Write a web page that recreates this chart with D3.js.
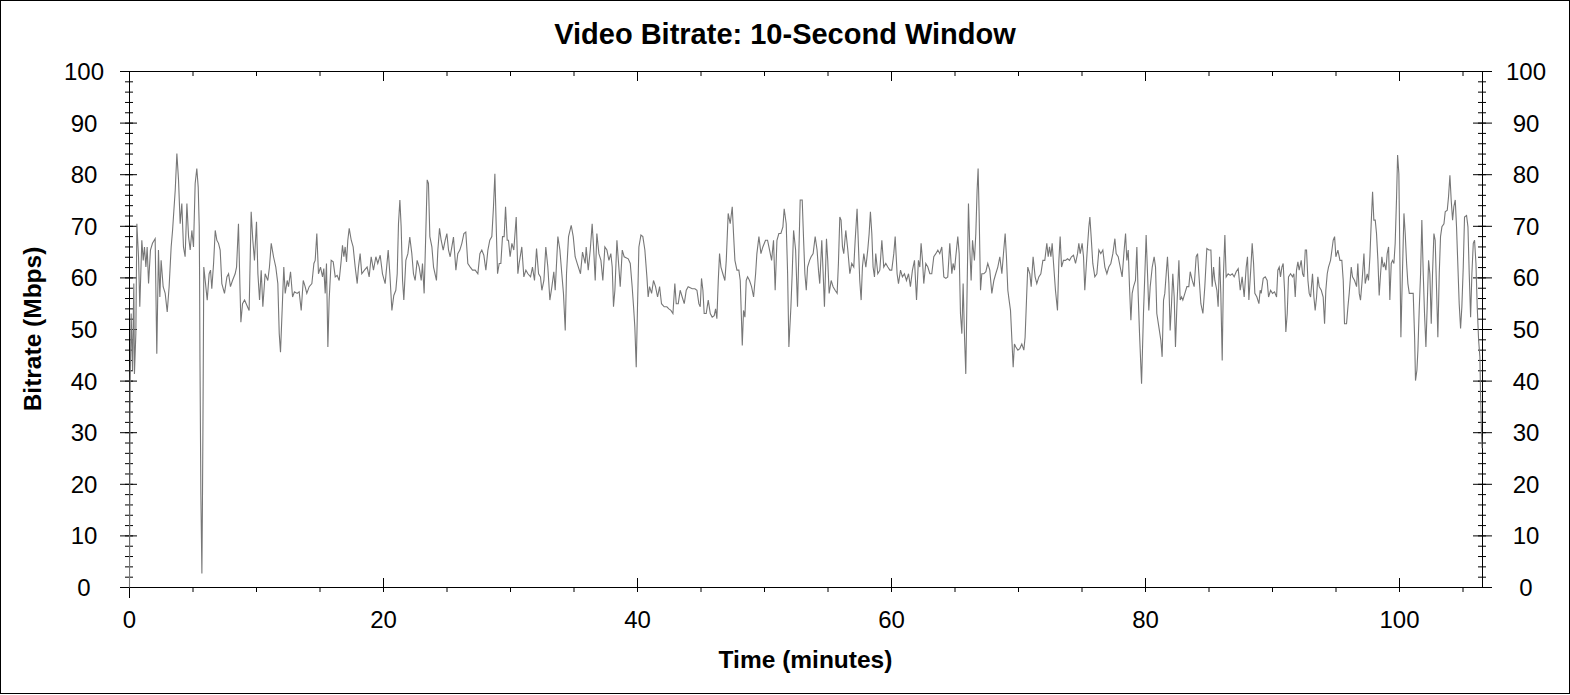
<!DOCTYPE html>
<html>
<head>
<meta charset="utf-8">
<script src="https://cdn.jsdelivr.net/npm/d3@7"></script>
<style>
  html, body { margin: 0; padding: 0; background: #fff; }
  svg { display: block; }
</style>
</head>
<body>
<svg id="chart" width="1570" height="695"></svg>
<script>
// ---- Data: [time (minutes), bitrate (Mbps)] ----
const partA = [[0,0],[0.05,39],[0.13,53.1],[0.24,42.1],[0.34,58.9],[0.39,41.4],[0.50,49.2],[0.58,70.5],[0.71,64.1],[0.81,54.4],[0.97,67.3],[1.08,63.4],[1.18,66.0],[1.29,62.1],[1.39,66.0],[1.50,58.9],[1.65,65.4],[1.81,66.7],[2.02,67.6],[2.15,45.3],[2.28,65.4],[2.39,56.3],[2.49,63.4],[2.65,58.3],[2.81,57.0],[2.97,53.4],[3.12,58.3],[3.28,66.0],[3.39,69.2],[3.60,77.0],[3.73,84.1],[3.86,79.0],[3.99,70.5],[4.12,74.4],[4.25,66.0],[4.38,64.1],[4.52,74.4],[4.65,68.0],[4.78,65.4],[4.91,69.2],[5.04,66.0],[5.17,78.3],[5.30,81.2],[5.41,77.6],[5.49,70],[5.52,60],[5.55,44],[5.62,18],[5.70,2.7],[5.74,15],[5.78,30],[5.85,62.1],[6.01,58.3],[6.12,55.7],[6.27,60.8],[6.38,61.5],[6.48,57.9],[6.62,62.8],[6.75,69.2],[6.88,67.3],[7.01,66.7],[7.14,65.4],[7.27,58.9],[7.48,57.0],[7.67,60.2],[7.80,60.8],[7.95,58.3],[8.11,59.5],[8.32,60.8],[8.43,62.1],[8.58,70.5],[8.69,58.9],[8.77,51.4],[8.90,55.0],[9.06,55.7],[9.24,54.7],[9.42,53.7],[9.58,72.8],[9.71,67.3],[9.84,63.4],[10.00,70.9],[10.11,60.8],[10.24,55.7],[10.37,61.5],[10.50,54.4],[10.68,60.8],[10.89,59.5],[11.02,62.1],[11.16,66.7],[11.34,64.1],[11.52,62.1],[11.68,58.9],[11.79,49.2],[11.89,45.6],[12.05,55.7],[12.15,62.1],[12.26,57.0],[12.42,59.5],[12.52,58.3],[12.68,61.2],[12.84,56.3],[12.99,57.3],[13.20,57.0],[13.36,57.3],[13.52,53.7],[13.68,59.5],[13.83,58.3],[13.96,57.0],[14.15,58.3],[14.36,58.9],[14.52,62.8],[14.62,63.4],[14.75,68.6],[14.88,60.8],[15.04,62.1],[15.20,60.2],[15.30,61.8],[15.41,57.0],[15.51,62.8],[15.62,46.6],[15.72,55.7],[15.88,63.4],[16.04,63.1],[16.20,60.2],[16.35,60.5],[16.51,59.5],[16.67,63.4],[16.77,66.3],[16.88,64.1],[16.98,66.0],[17.09,63.1],[17.19,67.3],[17.30,69.6],[17.46,67.3],[17.61,66.0],[17.77,62.1],[17.93,58.9],[18.03,62.1],[18.16,64.7]];

const partB = [[18.29,60.8],[18.50,61.5],[18.71,62.1],[18.87,60.2],[19.03,64.1],[19.21,61.5],[19.40,64.1],[19.55,62.8],[19.74,64.4],[19.92,60.8],[20.13,58.9],[20.37,65.4],[20.50,60.8],[20.66,53.7],[20.81,56.6],[20.97,57.6],[21.08,60.8],[21.18,70.5],[21.29,75.1],[21.39,69.9],[21.50,59.5],[21.60,55.7],[21.76,63.4],[21.92,64.7],[22.07,67.9],[22.23,64.7],[22.36,60.8],[22.49,59.5],[22.65,63.4],[22.81,62.1],[22.97,59.5],[23.07,62.8],[23.20,57.0],[23.33,68.6],[23.44,79.0],[23.54,78.3],[23.65,68.0],[23.81,66.0],[23.94,62.1],[24.17,59.5],[24.28,65.4],[24.41,69.6],[24.54,67.3],[24.70,65.4],[24.86,67.3],[24.99,68.6],[25.12,65.4],[25.25,64.1],[25.51,67.9],[25.70,61.5],[25.85,64.7],[26.01,65.4],[26.17,66.7],[26.33,68.6],[26.48,68.9],[26.64,62.8],[26.83,62.1],[27.01,61.5],[27.22,61.5],[27.43,60.8],[27.59,64.7],[27.74,65.4],[27.90,64.4],[28.06,61.5],[28.22,65.4],[28.37,67.3],[28.53,68.0],[28.66,73.8],[28.77,80.2],[28.87,70.5],[28.98,60.8],[29.11,62.8],[29.24,62.8],[29.37,68.0],[29.50,68.0],[29.61,73.8],[29.74,67.3],[29.84,67.3],[29.97,64.1],[30.11,66.7],[30.26,65.4],[30.45,71.8],[30.58,60.8],[30.68,62.8],[30.89,66.0],[31.05,60.2],[31.21,61.5],[31.37,60.8],[31.58,60.2],[31.73,62.1],[31.89,59.5],[32.05,65.7],[32.21,60.8],[32.36,60.2],[32.47,57.6],[32.63,59.5],[32.78,66.0],[32.94,62.1],[33.10,55.7],[33.26,58.3],[33.41,61.2],[33.52,57.6],[33.73,68.0],[33.89,65.4],[34.04,60.8],[34.17,57.0],[34.31,49.8],[34.41,60.8],[34.57,68.0],[34.78,70.2],[34.94,68.0],[35.09,64.1],[35.25,62.8],[35.51,60.8],[35.67,65.0],[35.88,62.8]];

const partC = [[35.96,66.0],[36.12,61.5],[36.28,65.4],[36.43,70.5],[36.54,66.0],[36.67,59.5],[36.80,68.6],[36.96,64.7],[37.12,63.4],[37.27,59.5],[37.43,66.0],[37.59,65.4],[37.75,63.4],[37.90,64.7],[38.01,62.1],[38.11,54.4],[38.22,57.6],[38.38,67.3],[38.53,62.1],[38.64,58.3],[38.80,65.4],[38.95,64.1],[39.27,63.7],[39.43,62.8],[39.58,58.3],[39.69,54.4],[39.79,50.5],[39.90,42.7],[40.00,54.4],[40.11,66.0],[40.27,68.3],[40.42,68.0],[40.58,65.4],[40.74,60.2],[40.84,56.3],[40.95,58.3],[41.11,57.0],[41.26,59.5],[41.42,58.3],[41.58,56.3],[41.74,58.3],[41.89,55.0],[42.10,54.4],[42.31,54.4],[42.47,54.0],[42.63,53.7],[42.79,53.1],[42.94,58.9],[43.05,55.0],[43.21,55.0],[43.36,57.6],[43.52,56.3],[43.68,55.0],[43.84,57.6],[43.99,58.3],[44.31,57.9],[44.52,57.9],[44.68,57.6],[44.83,55.0],[44.94,54.4],[45.04,59.9],[45.15,57.6],[45.25,53.1],[45.41,53.1],[45.57,55.7],[45.73,53.1],[45.88,52.4],[46.04,52.7],[46.15,54.0],[46.25,52.1],[46.36,59.5],[46.46,64.7],[46.57,62.1],[46.72,60.8],[46.88,59.5],[46.99,63.4],[47.14,72.5],[47.30,70.5],[47.46,73.8],[47.56,68.6],[47.67,63.4],[47.83,61.5],[47.98,61.5],[48.09,59.5],[48.25,46.9],[48.35,53.7],[48.46,52.4],[48.56,59.5],[48.67,60.2],[48.82,59.5],[48.98,58.3],[49.14,56.3],[49.30,60.8],[49.40,64.7],[49.56,68.0],[49.72,64.7],[49.87,66.0],[50.08,67.3],[50.24,67.3],[50.40,65.4],[50.56,63.4],[50.71,67.3],[50.84,57.6],[50.98,67.3],[51.13,68.6],[51.29,68.6],[51.45,69.9],[51.55,73.4],[51.71,70.5],[51.82,60.8],[51.92,46.6],[52.08,54.4],[52.18,60.8],[52.29,69.2],[52.45,65.4],[52.60,54.4],[52.71,65.4],[52.81,75.1],[52.97,75.1],[53.08,67.3],[53.18,60.8],[53.29,57.6],[53.39,62.1],[53.55,63.4]];

const partD = [[53.67,64.1],[53.83,64.7],[53.99,68.0],[54.14,65.4],[54.25,61.5],[54.35,58.9],[54.51,67.3],[54.62,60.8],[54.72,54.4],[54.88,67.6],[54.98,63.4],[55.09,57.0],[55.25,59.5],[55.40,58.3],[55.56,57.6],[55.72,57.0],[55.82,62.8],[55.93,71.8],[56.03,71.2],[56.14,66.0],[56.24,64.7],[56.40,69.2],[56.56,65.4],[56.72,60.8],[56.87,62.8],[57.03,62.1],[57.14,67.3],[57.29,73.4],[57.40,66.0],[57.50,59.5],[57.61,55.7],[57.71,62.1],[57.82,64.7],[57.98,62.1],[58.13,65.4],[58.24,68.6],[58.34,72.8],[58.45,68.6],[58.55,62.1],[58.66,60.2],[58.76,64.7],[58.92,60.8],[59.08,61.5],[59.24,67.3],[59.39,62.1],[59.55,62.8],[59.71,62.1],[59.87,61.5],[60.02,61.5],[60.18,64.7],[60.29,68.0],[60.44,60.8],[60.55,58.9],[60.71,61.5],[60.86,60.2],[61.02,60.8],[61.18,59.5],[61.34,60.8],[61.49,58.3],[61.65,61.5],[61.81,63.4],[61.97,55.7],[62.12,63.4],[62.23,62.1],[62.33,66.7],[62.44,63.4],[62.54,58.9],[62.70,62.8],[62.86,62.1],[63.02,60.8],[63.17,60.8],[63.33,64.1],[63.49,64.7],[63.65,65.4],[63.80,64.7],[63.96,66.0],[64.12,60.2],[64.28,59.9],[64.43,60.2],[64.59,66.7],[64.75,60.8],[64.85,62.8],[64.96,61.5],[65.06,64.1],[65.22,68.0],[65.33,64.7],[65.43,53.1],[65.54,49.2],[65.64,58.9],[65.75,48.5],[65.85,41.4],[65.96,58.9],[66.06,74.4],[66.17,65.4],[66.27,59.5],[66.38,67.3],[66.53,63.4],[66.64,68.6],[66.74,77.0],[66.82,81.2],[66.90,72.5],[67.01,57.6],[67.11,60.8],[67.27,60.8],[67.43,61.2],[67.58,62.8],[67.74,61.5],[67.90,57.0],[68.06,59.5],[68.21,60.8],[68.37,62.1],[68.53,64.1],[68.69,60.8],[68.84,65.4],[68.95,68.6],[69.05,64.1],[69.16,57.6],[69.26,55.7],[69.37,53.7],[69.47,48.5],[69.58,42.7],[69.68,47.2],[69.79,46.6],[69.95,46.0],[70.10,46.3],[70.26,47.2],[70.42,46.0],[70.52,48.5],[70.63,55.7],[70.73,62.1],[70.89,60.8],[71.00,58.3],[71.15,64.1],[71.31,60.2]];

const partE = [[71.44,58.9],[71.60,60.2],[71.76,60.8],[71.92,63.4],[72.07,63.4],[72.23,66.7],[72.34,64.1],[72.44,66.0],[72.55,64.1],[72.65,66.7],[72.76,62.8],[72.91,57.6],[73.07,53.7],[73.18,63.4],[73.28,68.0],[73.39,62.1],[73.54,63.4],[73.70,63.4],[73.86,63.7],[74.02,63.4],[74.17,64.1],[74.33,64.4],[74.49,62.8],[74.65,64.7],[74.75,66.7],[74.86,64.7],[75.01,66.7],[75.12,64.1],[75.22,57.6],[75.33,62.1],[75.43,66.0],[75.54,69.9],[75.62,71.8],[75.72,68.0],[75.85,62.8],[76.01,60.2],[76.17,60.8],[76.33,65.4],[76.48,64.7],[76.64,65.4],[76.80,62.1],[76.96,60.8],[77.11,62.1],[77.27,62.8],[77.43,64.7],[77.59,67.6],[77.69,64.7],[77.85,64.1],[78.01,62.1],[78.16,60.2],[78.32,65.4],[78.43,68.6],[78.53,63.4],[78.64,65.4],[78.74,58.3],[78.85,51.8],[78.95,57.0],[79.06,58.3],[79.21,59.5],[79.32,66.0],[79.42,57.0],[79.53,49.2],[79.69,39.5],[79.84,53.1],[79.95,60.8],[80.05,68.3],[80.16,60.8],[80.26,53.7],[80.37,58.3],[80.53,62.1],[80.68,64.1],[80.79,62.1],[80.89,53.1],[81.05,50.5],[81.21,47.9],[81.31,44.7],[81.42,55.7],[81.52,57.0],[81.63,60.8],[81.73,64.1],[81.84,58.9],[81.94,49.8],[82.05,55.0],[82.15,60.8],[82.26,56.3],[82.36,46.6],[82.47,54.4],[82.63,63.4],[82.73,55.7],[82.84,56.3],[82.94,55.7],[83.10,57.0],[83.26,58.3],[83.41,58.3],[83.52,61.2],[83.68,59.5],[83.83,58.3],[83.99,64.1],[84.10,64.7],[84.20,60.8],[84.36,55.0],[84.52,53.1],[84.67,58.3],[84.83,65.7],[84.99,65.4],[85.15,65.4],[85.25,58.3],[85.36,62.1],[85.46,59.5],[85.62,57.6],[85.72,54.4],[85.83,64.1],[85.93,57.0],[86.04,44.0],[86.14,60.8],[86.25,68.3],[86.35,60.2],[86.51,60.8],[86.67,60.5],[86.83,60.8],[86.98,60.2],[87.14,61.2],[87.30,61.8],[87.46,57.6],[87.61,60.2],[87.77,56.3],[87.93,62.1],[88.03,64.1],[88.14,55.7],[88.30,62.1],[88.40,66.7],[88.51,62.8],[88.61,57.0],[88.77,56.3],[88.93,55.0],[89.03,57.6]];

const partF = [[89.11,57.0],[89.27,59.9],[89.43,60.2],[89.58,59.5],[89.69,56.3],[89.85,57.6],[90.00,57.0],[90.16,57.3],[90.32,56.3],[90.42,61.5],[90.53,62.1],[90.63,60.2],[90.74,62.1],[90.84,62.8],[90.95,57.6],[91.05,49.5],[91.16,53.1],[91.26,60.2],[91.42,60.8],[91.58,60.2],[91.68,60.8],[91.79,56.3],[91.89,61.5],[92.00,63.1],[92.10,61.5],[92.26,63.4],[92.37,60.8],[92.47,60.2],[92.58,65.4],[92.68,65.4],[92.79,59.5],[92.89,57.0],[93.00,56.3],[93.15,60.8],[93.26,56.3],[93.36,53.7],[93.47,56.3],[93.57,60.2],[93.68,58.3],[93.84,57.6],[93.99,56.3],[94.10,51.1],[94.20,57.6],[94.31,60.8],[94.41,62.1],[94.57,63.4],[94.68,65.4],[94.78,67.3],[94.89,68.0],[94.99,64.1],[95.15,65.4],[95.31,63.4],[95.46,63.4],[95.57,59.5],[95.67,51.1],[95.83,51.1],[95.94,54.4],[96.04,57.0],[96.20,62.1],[96.30,60.2],[96.46,59.5],[96.62,58.3],[96.72,62.8],[96.83,57.0],[96.93,55.7],[97.04,58.9],[97.20,64.7],[97.30,58.9],[97.46,60.8],[97.56,59.5],[97.67,64.1],[97.77,70.5],[97.88,76.7],[97.98,71.2],[98.09,71.2],[98.19,68.6],[98.30,63.4],[98.40,56.6],[98.51,60.8],[98.61,64.1],[98.72,62.1],[98.82,62.8],[98.93,61.5],[99.03,64.7],[99.14,66.0],[99.24,55.7],[99.35,62.8],[99.45,63.4],[99.56,62.8],[99.66,66.7],[99.77,75.7],[99.85,83.8],[99.95,80.2],[100.03,64.1],[100.11,48.5],[100.21,58.9],[100.35,72.5],[100.45,68.6],[100.56,62.8],[100.66,58.9],[100.77,57.0],[101.08,57.0],[101.19,48.5],[101.26,40.1],[101.37,42.1],[101.45,46.0],[101.55,53.7],[101.66,60.8],[101.76,71.2],[101.87,60.8],[101.97,53.1],[102.08,46.6],[102.18,54.4],[102.29,63.4],[102.39,60.8],[102.50,51.1],[102.60,60.8],[102.71,68.6],[102.81,67.3],[102.92,57.6],[103.02,48.5],[103.13,60.8],[103.23,68.0],[103.34,69.9],[103.50,70.5],[103.60,72.8],[103.76,73.1],[103.86,75.7],[103.97,79.9],[104.07,75.1],[104.18,71.2],[104.28,73.8],[104.39,75.1],[104.49,69.9],[104.60,62.1],[104.70,55.0],[104.81,50.2],[104.91,54.4],[105.02,62.1],[105.12,71.8],[105.28,72.1],[105.39,69.9],[105.49,60.8],[105.60,52.4],[105.70,60.8],[105.81,66.7],[105.91,67.3],[106.02,62.8],[106.12,54.4],[106.23,47.9],[106.33,44.7],[106.38,37.6],[106.46,29.8],[106.50,27.0]];

const yTickLabels = [0, 10, 20, 30, 40, 50, 60, 70, 80, 90, 100];
const xTickLabels = [0, 20, 40, 60, 80, 100];
const xMinorStep = 5;   // minutes
const yMinorStep = 2;   // Mbps
const xMax = 106.54;    // end of time axis (minutes)

const titleText = "Video Bitrate: 10-Second Window";
const xTitle = "Time (minutes)";
const yTitle = "Bitrate (Mbps)";

// ---- Drawing ----
const series = [].concat(partA, partB, partC, partD, partE, partF);
const svg = d3.select("#chart");
const FONT = "'Liberation Sans', Arial, Helvetica, sans-serif";

const x = d3.scaleLinear().domain([0, 100]).range([129, 1399]);
const y = d3.scaleLinear().domain([0, 100]).range([587, 71]);
const xLeft = x(0), xRight = Math.round(x(xMax));
const yTop = y(100), yBot = y(0);

svg.append("rect").attr("x", 0).attr("y", 0).attr("width", 1570).attr("height", 695).attr("fill", "#fff");
svg.append("rect").attr("x", 0.5).attr("y", 0.5).attr("width", 1569).attr("height", 693)
  .attr("fill", "none").attr("stroke", "#000").attr("stroke-width", 1);

const yMinor = d3.range(0, 100 + 0.001, yMinorStep);
const xMinor = d3.range(0, xMax, xMinorStep);

function styleAxis(g) {
  g.select(".domain").remove();
  g.attr("font-family", FONT).attr("font-size", 24);
  g.selectAll(".tick line").attr("stroke", "#000").attr("stroke-width", 1);
  g.selectAll(".tick text").attr("fill", "#000");
}

// left axis: minor (both sides), major (both sides) with labels
svg.append("g").attr("transform", `translate(${xLeft},0)`)
  .call(d3.axisLeft(y).tickValues(yMinor).tickSize(4).tickFormat("")).call(styleAxis);
svg.append("g").attr("transform", `translate(${xLeft},0)`)
  .call(d3.axisLeft(y).tickValues(yMinor).tickSize(-4).tickFormat("")).call(styleAxis);
svg.append("g").attr("transform", `translate(${xLeft},0)`)
  .call(d3.axisLeft(y).tickValues(yTickLabels).tickSize(-8).tickFormat("")).call(styleAxis);
const gLeft = svg.append("g").attr("transform", `translate(${xLeft},0)`)
  .call(d3.axisLeft(y).tickValues(yTickLabels).tickSize(9).tickFormat(d3.format("d"))).call(styleAxis);
gLeft.selectAll(".tick text").attr("x", -45).attr("dy", "0.35em").attr("text-anchor", "middle");

// right axis
svg.append("g").attr("transform", `translate(${xRight},0)`)
  .call(d3.axisRight(y).tickValues(yMinor).tickSize(4).tickFormat("")).call(styleAxis);
svg.append("g").attr("transform", `translate(${xRight},0)`)
  .call(d3.axisRight(y).tickValues(yMinor).tickSize(-4).tickFormat("")).call(styleAxis);
svg.append("g").attr("transform", `translate(${xRight},0)`)
  .call(d3.axisRight(y).tickValues(yTickLabels).tickSize(-9).tickFormat("")).call(styleAxis);
const gRight = svg.append("g").attr("transform", `translate(${xRight},0)`)
  .call(d3.axisRight(y).tickValues(yTickLabels).tickSize(10).tickFormat(d3.format("d"))).call(styleAxis);
gRight.selectAll(".tick text").attr("x", 44).attr("dy", "0.35em").attr("text-anchor", "middle");

// top axis: ticks pointing inside
svg.append("g").attr("transform", `translate(0,${yTop})`)
  .call(d3.axisTop(x).tickValues(xMinor).tickSize(-5).tickFormat("")).call(styleAxis);
svg.append("g").attr("transform", `translate(0,${yTop})`)
  .call(d3.axisTop(x).tickValues(xTickLabels).tickSize(-10).tickFormat("")).call(styleAxis);

// bottom axis: minor outward, major inward, labels below
svg.append("g").attr("transform", `translate(0,${yBot})`)
  .call(d3.axisBottom(x).tickValues(xMinor).tickSize(5).tickFormat("")).call(styleAxis);
const gBottom = svg.append("g").attr("transform", `translate(0,${yBot})`)
  .call(d3.axisBottom(x).tickValues(xTickLabels).tickSize(-9).tickPadding(24).tickFormat(d3.format("d"))).call(styleAxis);

// frame lines
const frame = svg.append("g").attr("stroke", "#000").attr("stroke-width", 1).attr("shape-rendering", "crispEdges");
frame.append("line").attr("x1", xLeft - 9).attr("x2", xRight + 10).attr("y1", yTop + 0.5).attr("y2", yTop + 0.5);
frame.append("line").attr("x1", xLeft - 9).attr("x2", xRight + 10).attr("y1", yBot + 0.5).attr("y2", yBot + 0.5);
frame.append("line").attr("x1", xLeft + 0.5).attr("x2", xLeft + 0.5).attr("y1", yTop).attr("y2", yBot + 11);
frame.append("line").attr("x1", xRight + 0.5).attr("x2", xRight + 0.5).attr("y1", yTop).attr("y2", yBot + 1);

// data line
const line = d3.line().x(d => x(d[0]) + 0.5).y(d => y(d[1]) + 0.5);
svg.append("path").datum(series).attr("d", line)
  .attr("fill", "none").attr("stroke", "#777777").attr("stroke-width", 1.1).attr("stroke-linejoin", "miter");

// titles
svg.append("text").attr("x", 785).attr("y", 44).attr("text-anchor", "middle")
  .attr("font-family", FONT).attr("font-size", 29).attr("font-weight", "bold").attr("fill", "#000")
  .text(titleText);
svg.append("text").attr("x", (xLeft + xRight) / 2).attr("y", 659).attr("dy", "0.35em").attr("text-anchor", "middle")
  .attr("font-family", FONT).attr("font-size", 24.5).attr("font-weight", "bold").attr("fill", "#000")
  .text(xTitle);
svg.append("text").attr("transform", `translate(32,${(yTop + yBot) / 2}) rotate(-90)`)
  .attr("dy", "0.35em").attr("text-anchor", "middle")
  .attr("font-family", FONT).attr("font-size", 24.5).attr("font-weight", "bold").attr("fill", "#000")
  .text(yTitle);
</script>
</body>
</html>
